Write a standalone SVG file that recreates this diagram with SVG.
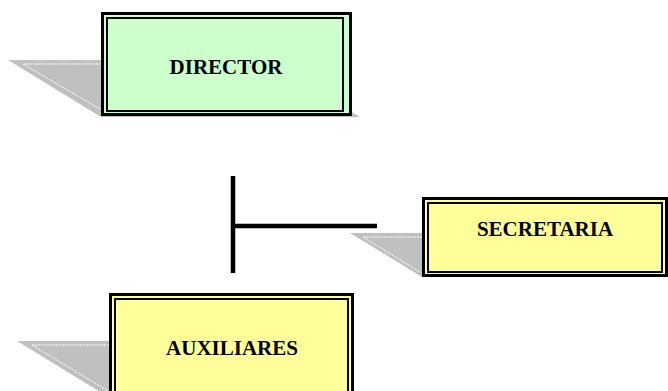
<svg xmlns="http://www.w3.org/2000/svg" width="668" height="391" viewBox="0 0 668 391">
  <style>
    .shadow { fill: #C0C0C0; }
    .hl { fill: none; stroke: #FFFFFF; stroke-width: 1; stroke-dasharray: 2 1; }
    .outer { stroke: #000; stroke-width: 3; }
    .inner { fill: none; stroke: #000; stroke-width: 2; }
    .green { fill: #CCFFCC; }
    .yellow { fill: #FFFF99; }
    .label { font-family: "Liberation Serif", "Times New Roman", serif; font-weight: bold; font-size: 21px; text-anchor: middle; fill: #000; }
    .conn { stroke: #000; stroke-width: 4.5; fill: none; }
  </style>
  <rect width="668" height="391" fill="#FFFFFF"/>
  <g id="connectors">
    <line class="conn" x1="233" y1="176" x2="233" y2="273"/>
    <line class="conn" x1="233" y1="226" x2="377" y2="226"/>
  </g>
  <g id="director">
    <polygon class="shadow" points="8,60 267,60 360,117 101,117"/>
    <polyline class="hl" points="101,64 23,64 100,109"/>
    <rect class="outer green" x="102.5" y="13.5" width="248" height="101"/>
    <rect class="inner" x="107" y="18" width="236" height="93"/>
    <text class="label" x="226" y="74">DIRECTOR</text>
  </g>
  <g id="secretaria">
    <polygon class="shadow" points="350,233 600,233 672,277 422,277"/>
    <polyline class="hl" points="422,237 363,237 420,272"/>
    <rect class="outer yellow" x="423.5" y="198.5" width="243" height="77"/>
    <rect class="inner" x="428" y="203" width="234" height="69"/>
    <text class="label" x="545" y="236">SECRETARIA</text>
  </g>
  <g id="auxiliares">
    <polygon class="shadow" points="17,341 267,341 360,398 110,398"/>
    <polyline class="hl" points="109,345 32,345 108,391"/>
    <rect class="outer yellow" x="110.5" y="294.5" width="242" height="110"/>
    <rect class="inner" x="115" y="299" width="233" height="100"/>
    <text class="label" x="232" y="355">AUXILIARES</text>
  </g>
</svg>
